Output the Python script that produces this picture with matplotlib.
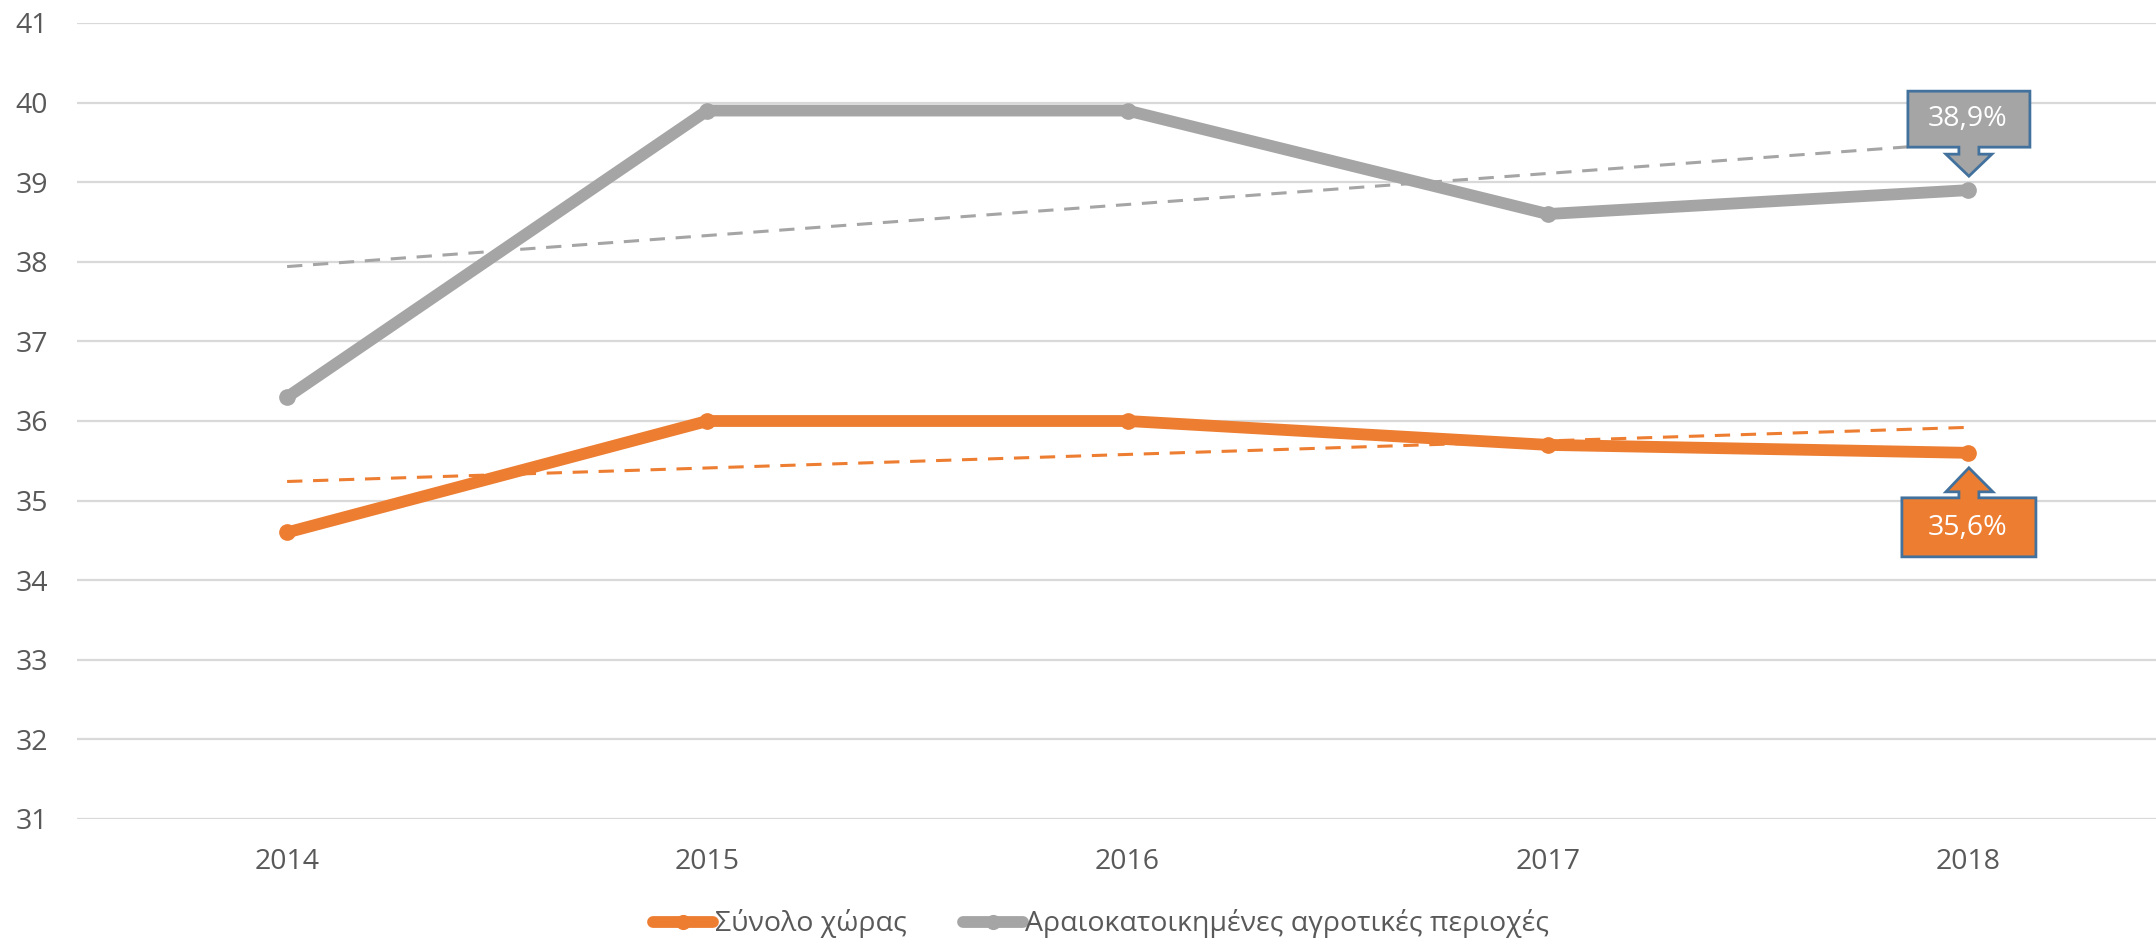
import numpy as np
import matplotlib
matplotlib.use("Agg")
import matplotlib.pyplot as plt
from matplotlib.patches import Polygon
from matplotlib.transforms import Affine2D

plt.rcParams['font.family'] = ['Open Sans', 'DejaVu Sans']

# data
years = ['2014', '2015', '2016', '2017', '2018']
total = [34.6, 36.0, 36.0, 35.7, 35.6]
rural = [36.3, 39.9, 39.9, 38.6, 38.9]
total_name = 'Σύνολο χώρας'
rural_name = 'Αραιοκατοικημένες αγροτικές περιοχές'
orange = '#ED7D31'
gray = '#A5A5A5'
edge_blue = '#41719C'
text_gray = '#595959'
fs = 20.5

fig = plt.figure(figsize=(21.56, 9.4), dpi=100)
ax = fig.add_axes([77 / 2156, 121 / 940, 2101 / 2156, 796 / 940])

x = np.arange(len(years))

# linear trend lines (like Excel's)
for vals, col in [(total, orange), (rural, gray)]:
    k, b = np.polyfit(x, vals, 1)
    ax.plot(x, k * x + b, color=col, lw=2.2, ls=(0, (5, 3.5)), zorder=2)

ax.plot(x, total, color=orange, lw=8.5, marker='o', ms=11,
        solid_capstyle='round', label=total_name, zorder=3)
ax.plot(x, rural, color=gray, lw=8.5, marker='o', ms=11,
        solid_capstyle='round', label=rural_name, zorder=3)

ax.set_xlim(-0.5, len(years) - 0.5)
ax.set_ylim(31, 41)
ax.set_yticks(range(31, 42))
ax.set_xticks(x)
ax.set_xticklabels(years)
ax.tick_params(length=0, labelsize=fs, labelcolor=text_gray, pad=21)
ax.grid(axis='y', color='#D9D9D9', lw=1.6)
ax.set_axisbelow(True)
for s in ax.spines.values():
    s.set_visible(False)

# callouts on the last points
def callout(xv, yv, col, label, down):
    px, py = ax.transData.transform((xv, yv))
    if down:
        # box above point, arrow pointing down
        verts = [(-60, 99), (62, 99), (62, 43), (11, 43), (11, 36), (24, 36),
                 (1, 14), (-22, 36), (-9, 36), (-9, 43), (-60, 43)]
        ty = 71
    else:
        verts = [(-66, -104), (68, -104), (68, -45), (11, -45), (11, -39), (25, -39),
                 (1, -15), (-22, -39), (-9, -39), (-9, -45), (-66, -45)]
        ty = -75
    tr = Affine2D().translate(px, py)
    poly = Polygon(verts, closed=True, facecolor=col, edgecolor=edge_blue,
                   lw=2, transform=tr, zorder=5, clip_on=False)
    fig.add_artist(poly)
    fig.text(px / fig.bbox.width, (py + ty) / fig.bbox.height, label,
             color='white', fontsize=fs, ha='center', va='center', zorder=6)

callout(4, rural[-1], gray, '38,9%', True)
callout(4, total[-1], orange, '35,6%', False)

leg = fig.legend(loc='center', bbox_to_anchor=(1101 / 2156, 16 / 940), ncol=2,
                 frameon=False, fontsize=fs, handlelength=2.1, handletextpad=0.05,
                 columnspacing=2.0, markerscale=0.9)
for t in leg.get_texts():
    t.set_color(text_gray)

fig.savefig('out.png', dpi=100)
